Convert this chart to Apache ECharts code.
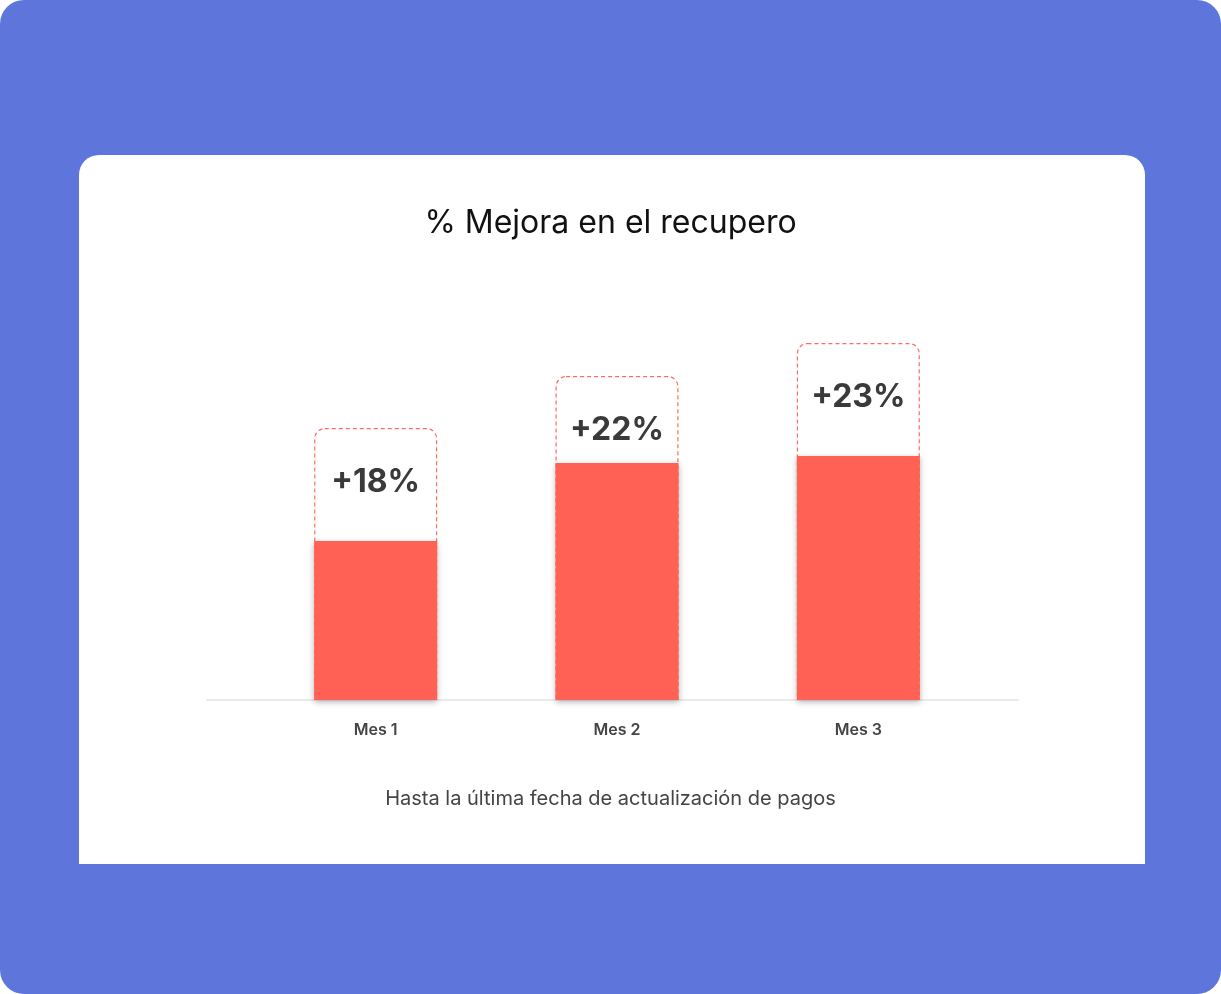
<!DOCTYPE html>
<html><head><meta charset="utf-8">
<script src="https://cdn.jsdelivr.net/npm/echarts@6/dist/echarts.min.js"></script>
<style>html,body{margin:0;padding:0;background:#fff}#c{width:1221px;height:994px}</style>
</head><body><div id="c"></div>
<script>
const categories = ['Mes 1','Mes 2','Mes 3'];
const barValues = [159, 237, 244];
const boxValues = [272, 324, 357];
const labels = ['+18%','+22%','+23%'];

const chart = echarts.init(document.getElementById('c'));
chart.setOption({
  backgroundColor: '#fff',
  graphic: [
    {type:'rect', z:-10, shape:{x:0,y:0,width:1221,height:994,r:24}, style:{fill:'#5E76DB'}},
    {type:'rect', z:-9, shape:{x:79,y:155,width:1066,height:709,r:[20,20,0,0]}, style:{fill:'#fff'}},
    {type:'line', z:-8, shape:{x1:206,y1:700,x2:1019,y2:700}, style:{stroke:'#ebebeb',lineWidth:2}},
    {type:'text', left:'center', top:207, style:{text:'% Mejora en el recupero', font:'32px Inter, sans-serif', fill:'#111'}},
    {type:'text', left:'center', top:789, style:{text:'Hasta la última fecha de actualización de pagos', font:'20px Inter, sans-serif', fill:'#444'}}
  ],
  grid: {left:255, right:242, top:300, bottom:294},
  xAxis: {type:'category', data:categories, axisLine:{show:false}, axisTick:{show:false},
    axisLabel:{color:'#444', fontSize:16, fontWeight:600, fontFamily:'Inter, sans-serif', margin:22}},
  yAxis: {type:'value', min:0, max:400, show:false, splitLine:{show:false}},
  series: [
    {type:'bar', data:boxValues, barWidth:123, barGap:'-100%', z:1,
      itemStyle:{color:'rgba(0,0,0,0)', borderColor:'#FF6B5F', borderType:[4,3], borderWidth:1.2, borderRadius:[10,10,0,0]},
      label:{show:true, position:'insideTop', distance:38, formatter:p=>labels[p.dataIndex],
        fontSize:32, fontWeight:700, color:'#3a3a3a', fontFamily:'Inter, sans-serif'}},
    {type:'bar', data:barValues, barWidth:123, z:2,
      itemStyle:{color:'#FF6154', shadowBlur:6, shadowColor:'rgba(0,0,0,0.3)', shadowOffsetY:2}}
  ]
});
</script></body></html>
